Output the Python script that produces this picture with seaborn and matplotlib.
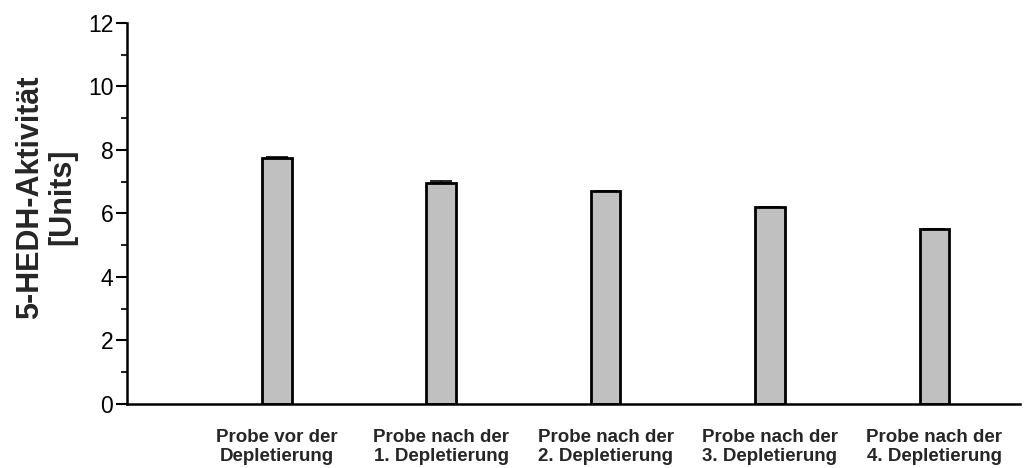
import numpy as np
import pandas as pd
import matplotlib
matplotlib.use("Agg")
import matplotlib.pyplot as plt
import seaborn as sns
from matplotlib.ticker import MultipleLocator

# Werte
proben = ["Probe vor der\nDepletierung", "Probe nach der\n1. Depletierung",
          "Probe nach der\n2. Depletierung", "Probe nach der\n3. Depletierung",
          "Probe nach der\n4. Depletierung"]
aktivitaet = [7.74, 6.97, 6.70, 6.20, 5.52]
fehler = [0.05, 0.06, 0.0, 0.0, 0.0]

df = pd.DataFrame({"probe": proben, "aktivitaet": aktivitaet})

sns.set_style("ticks")
plt.rcParams["font.family"] = ["Liberation Sans", "DejaVu Sans"]

fig, ax = plt.subplots(figsize=(10.26, 4.68), dpi=100)
fig.subplots_adjust(left=0.124, right=0.994, bottom=0.137, top=0.951)

sns.barplot(data=df, x="probe", y="aktivitaet", color="#c0c0c0", width=0.18,
            edgecolor="black", linewidth=2, saturation=1, ax=ax)
ax.errorbar(np.arange(len(proben)), aktivitaet, yerr=[np.zeros(len(fehler)), fehler],
            fmt="none", ecolor="black", elinewidth=1.2, capsize=8, capthick=1.2, zorder=0)

ax.set_xlim(-0.91, 4.52)
ax.set_ylim(0, 12)
ax.yaxis.set_major_locator(MultipleLocator(2))
ax.yaxis.set_minor_locator(MultipleLocator(1))

for side in ["top", "right"]:
    ax.spines[side].set_visible(False)
for side in ["left", "bottom"]:
    ax.spines[side].set_linewidth(1.8)
    ax.spines[side].set_color("black")

ax.tick_params(axis="y", which="major", length=8, width=1.5, labelsize=16.5, pad=2, colors="black")
ax.tick_params(axis="y", which="minor", length=4, width=1.5)
ax.tick_params(axis="x", length=0, pad=18)
for lab in ax.get_xticklabels():
    lab.set_fontsize(13.5)
    lab.set_fontweight("bold")

ax.set_xlabel("")
ax.set_ylabel("5-HEDH-Aktivität\n[Units]", fontsize=22, fontweight="bold", linespacing=1.1)
ax.yaxis.set_label_coords(-0.056, 0.543)

fig.savefig("out.png", dpi=100)
